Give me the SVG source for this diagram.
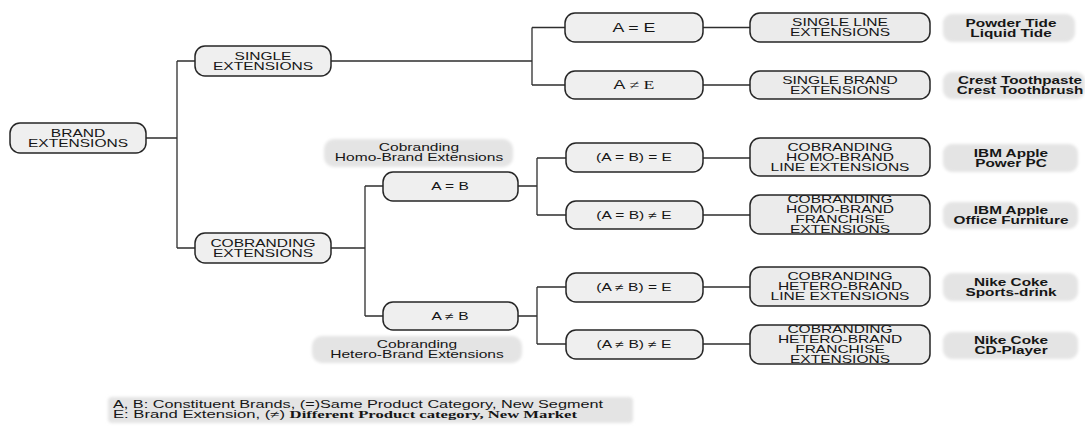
<svg xmlns="http://www.w3.org/2000/svg" width="1085" height="427" viewBox="0 0 1085 427">
<defs>
<filter id="soft" x="-10%" y="-30%" width="120%" height="160%"><feGaussianBlur stdDeviation="1.6"/></filter>
</defs>
<style>
.box{fill:#efefef;stroke:#262626;stroke-width:1.5}
.res{fill:#ebebeb;stroke:#262626;stroke-width:1.5}
.lbl{fill:#e4e4e4;filter:url(#soft)}
.t{font-family:"Liberation Sans",Arial,sans-serif;font-size:10.5px;fill:#161616;text-anchor:middle}
.big{font-size:12px}
.b{font-weight:bold}
.sr{font-family:"Liberation Serif","Times New Roman",serif}
.fn{font-family:"Liberation Sans",Arial,sans-serif;font-size:10px;fill:#161616}
#connectors path{stroke:#2e2e2e;stroke-width:1.3;fill:none}
</style>
<rect width="1085" height="427" fill="#ffffff"/>
<g id="connectors">
<path d="M146,138H177M177,61V248M177,61H195M177,248H195"/>
<path d="M331,61H532M532,27.5V85M532,27.5H565M532,85H565"/>
<path d="M703,27.5H750M703,85H750"/>
<path d="M331,248H365M365,186V316M365,186H383M365,316H383"/>
<path d="M518,186H537M537,158V215M537,158H566M537,215H566"/>
<path d="M518,316H537M537,287V344M537,287H566M537,344H566"/>
<path d="M703,158H750M703,215H750M703,287H750M703,344H750"/>
</g>
<g id="brand-extensions"><rect class="box" x="10" y="123" width="136" height="30" rx="10"/>
<g transform="translate(78,0) scale(1.48,1)"><text class="t"><tspan x="0" y="136.7">BRAND</tspan><tspan x="0" y="146.7">EXTENSIONS</tspan></text></g></g>
<g id="single-extensions"><rect class="box" x="195" y="46" width="136" height="30" rx="10"/>
<g transform="translate(263,0) scale(1.48,1)"><text class="t"><tspan x="0" y="59.7">SINGLE</tspan><tspan x="0" y="69.7">EXTENSIONS</tspan></text></g></g>
<g id="cobranding-extensions"><rect class="box" x="195" y="233" width="136" height="30" rx="10"/>
<g transform="translate(263,0) scale(1.48,1)"><text class="t"><tspan x="0" y="246.7">COBRANDING</tspan><tspan x="0" y="256.7">EXTENSIONS</tspan></text></g></g>
<g id="a-eq-e"><rect class="box" x="565" y="13" width="138" height="29" rx="10"/>
<g transform="translate(634,0) scale(1.48,1)"><text class="t big" x="0" y="31.8">A = E</text></g></g>
<g id="a-ne-e"><rect class="box" x="565" y="71" width="138" height="28" rx="10"/>
<g transform="translate(634,0) scale(1.48,1)"><text class="t big" x="0" y="89.3">A <tspan class="sr">≠ E</tspan></text></g></g>
<g id="single-line-ext"><rect class="res" x="750" y="13" width="180" height="29" rx="10"/>
<g transform="translate(840,0) scale(1.48,1)"><text class="t"><tspan x="0" y="25.7">SINGLE LINE</tspan><tspan x="0" y="35.7">EXTENSIONS</tspan></text></g></g>
<g id="single-brand-ext"><rect class="res" x="750" y="71" width="180" height="28" rx="10"/>
<g transform="translate(840,0) scale(1.48,1)"><text class="t"><tspan x="0" y="83.7">SINGLE BRAND</tspan><tspan x="0" y="93.7">EXTENSIONS</tspan></text></g></g>
<g id="ex-tide"><rect class="lbl" x="943" y="14" width="132" height="28" rx="9"/>
<g transform="translate(1011,0) scale(1.46,1)"><text class="t b"><tspan x="0" y="26.7">Powder Tide</tspan><tspan x="0" y="36.7">Liquid Tide</tspan></text></g></g>
<g id="ex-crest"><rect class="lbl" x="943" y="72" width="142" height="27" rx="9"/>
<g transform="translate(1020,0) scale(1.45,1)"><text class="t b"><tspan x="0" y="83.7">Crest Toothpaste</tspan><tspan x="0" y="93.7">Crest Toothbrush</tspan></text></g></g>
<g id="homo-label"><rect class="lbl" x="324" y="139" width="189" height="28" rx="10"/>
<g transform="translate(419,0) scale(1.48,1)"><text class="t"><tspan x="0" y="150.7">Cobranding</tspan><tspan x="0" y="160.7">Homo-Brand Extensions</tspan></text></g></g>
<g id="a-eq-b"><rect class="box" x="383" y="172" width="135" height="29" rx="10"/>
<g transform="translate(450,0) scale(1.48,1)"><text class="t" x="0" y="190.2">A = B</text></g></g>
<g id="a-ne-b"><rect class="box" x="383" y="302" width="135" height="28" rx="10"/>
<g transform="translate(450,0) scale(1.48,1)"><text class="t" x="0" y="319.7">A ≠ B</text></g></g>
<g id="hetero-label"><rect class="lbl" x="312" y="336" width="210" height="27" rx="10"/>
<g transform="translate(417,0) scale(1.48,1)"><text class="t"><tspan x="0" y="347.7">Cobranding</tspan><tspan x="0" y="357.7">Hetero-Brand Extensions</tspan></text></g></g>
<g id="ab-eq-e"><rect class="box" x="566" y="143" width="137" height="29" rx="10"/>
<g transform="translate(634,0) scale(1.48,1)"><text class="t" x="0" y="161.2">(A = B) = E</text></g></g>
<g id="ab-ne-e"><rect class="box" x="566" y="201" width="137" height="28" rx="10"/>
<g transform="translate(634,0) scale(1.48,1)"><text class="t" x="0" y="218.7">(A = B) ≠ E</text></g></g>
<g id="anb-eq-e"><rect class="box" x="566" y="273" width="137" height="29" rx="10"/>
<g transform="translate(634,0) scale(1.48,1)"><text class="t" x="0" y="291.2">(A ≠ B) = E</text></g></g>
<g id="anb-ne-e"><rect class="box" x="566" y="330" width="137" height="29" rx="10"/>
<g transform="translate(634,0) scale(1.48,1)"><text class="t" x="0" y="348.2">(A ≠ B) ≠ E</text></g></g>
<g id="homo-line-ext"><rect class="res" x="750" y="138" width="180" height="38" rx="10"/>
<g transform="translate(840,0) scale(1.48,1)"><text class="t"><tspan x="0" y="150.7">COBRANDING</tspan><tspan x="0" y="160.7">HOMO-BRAND</tspan><tspan x="0" y="170.7">LINE EXTENSIONS</tspan></text></g></g>
<g id="homo-franchise-ext"><rect class="res" x="750" y="195" width="180" height="39" rx="10"/>
<g transform="translate(840,0) scale(1.48,1)"><text class="t"><tspan x="0" y="202.7">COBRANDING</tspan><tspan x="0" y="212.7">HOMO-BRAND</tspan><tspan x="0" y="222.7">FRANCHISE</tspan><tspan x="0" y="232.7">EXTENSIONS</tspan></text></g></g>
<g id="hetero-line-ext"><rect class="res" x="750" y="267" width="180" height="39" rx="10"/>
<g transform="translate(840,0) scale(1.48,1)"><text class="t"><tspan x="0" y="279.7">COBRANDING</tspan><tspan x="0" y="289.7">HETERO-BRAND</tspan><tspan x="0" y="299.7">LINE EXTENSIONS</tspan></text></g></g>
<g id="hetero-franchise-ext"><rect class="res" x="750" y="325" width="180" height="39" rx="10"/>
<g transform="translate(840,0) scale(1.48,1)"><text class="t"><tspan x="0" y="332.7">COBRANDING</tspan><tspan x="0" y="342.7">HETERO-BRAND</tspan><tspan x="0" y="352.7">FRANCHISE</tspan><tspan x="0" y="362.7">EXTENSIONS</tspan></text></g></g>
<g id="ex-powerpc"><rect class="lbl" x="943" y="144" width="135" height="28" rx="9"/>
<g transform="translate(1011,0) scale(1.46,1)"><text class="t b"><tspan x="0" y="156.7">IBM Apple</tspan><tspan x="0" y="166.7">Power PC</tspan></text></g></g>
<g id="ex-furniture"><rect class="lbl" x="943" y="202" width="135" height="27" rx="9"/>
<g transform="translate(1011,0) scale(1.46,1)"><text class="t b"><tspan x="0" y="213.7">IBM Apple</tspan><tspan x="0" y="223.7">Office Furniture</tspan></text></g></g>
<g id="ex-sportsdrink"><rect class="lbl" x="943" y="273" width="135" height="28" rx="9"/>
<g transform="translate(1011,0) scale(1.46,1)"><text class="t b"><tspan x="0" y="285.7">Nike Coke</tspan><tspan x="0" y="295.7">Sports-drink</tspan></text></g></g>
<g id="ex-cdplayer"><rect class="lbl" x="943" y="332" width="135" height="27" rx="9"/>
<g transform="translate(1011,0) scale(1.46,1)"><text class="t b"><tspan x="0" y="343.7">Nike Coke</tspan><tspan x="0" y="353.7">CD-Player</tspan></text></g></g>
<g id="footnote"><rect class="lbl" x="108" y="397" width="525" height="26" rx="4"/>
<text class="fn" x="113" y="407.6" textLength="490" lengthAdjust="spacingAndGlyphs">A, B: Constituent Brands, (=)Same Product Category, New Segment</text>
<text class="fn" x="113" y="418.4" textLength="464" lengthAdjust="spacingAndGlyphs">E: Brand Extension, (≠) <tspan class="sr" font-weight="bold">Different Product category, New Market</tspan></text>
</g>
</svg>
